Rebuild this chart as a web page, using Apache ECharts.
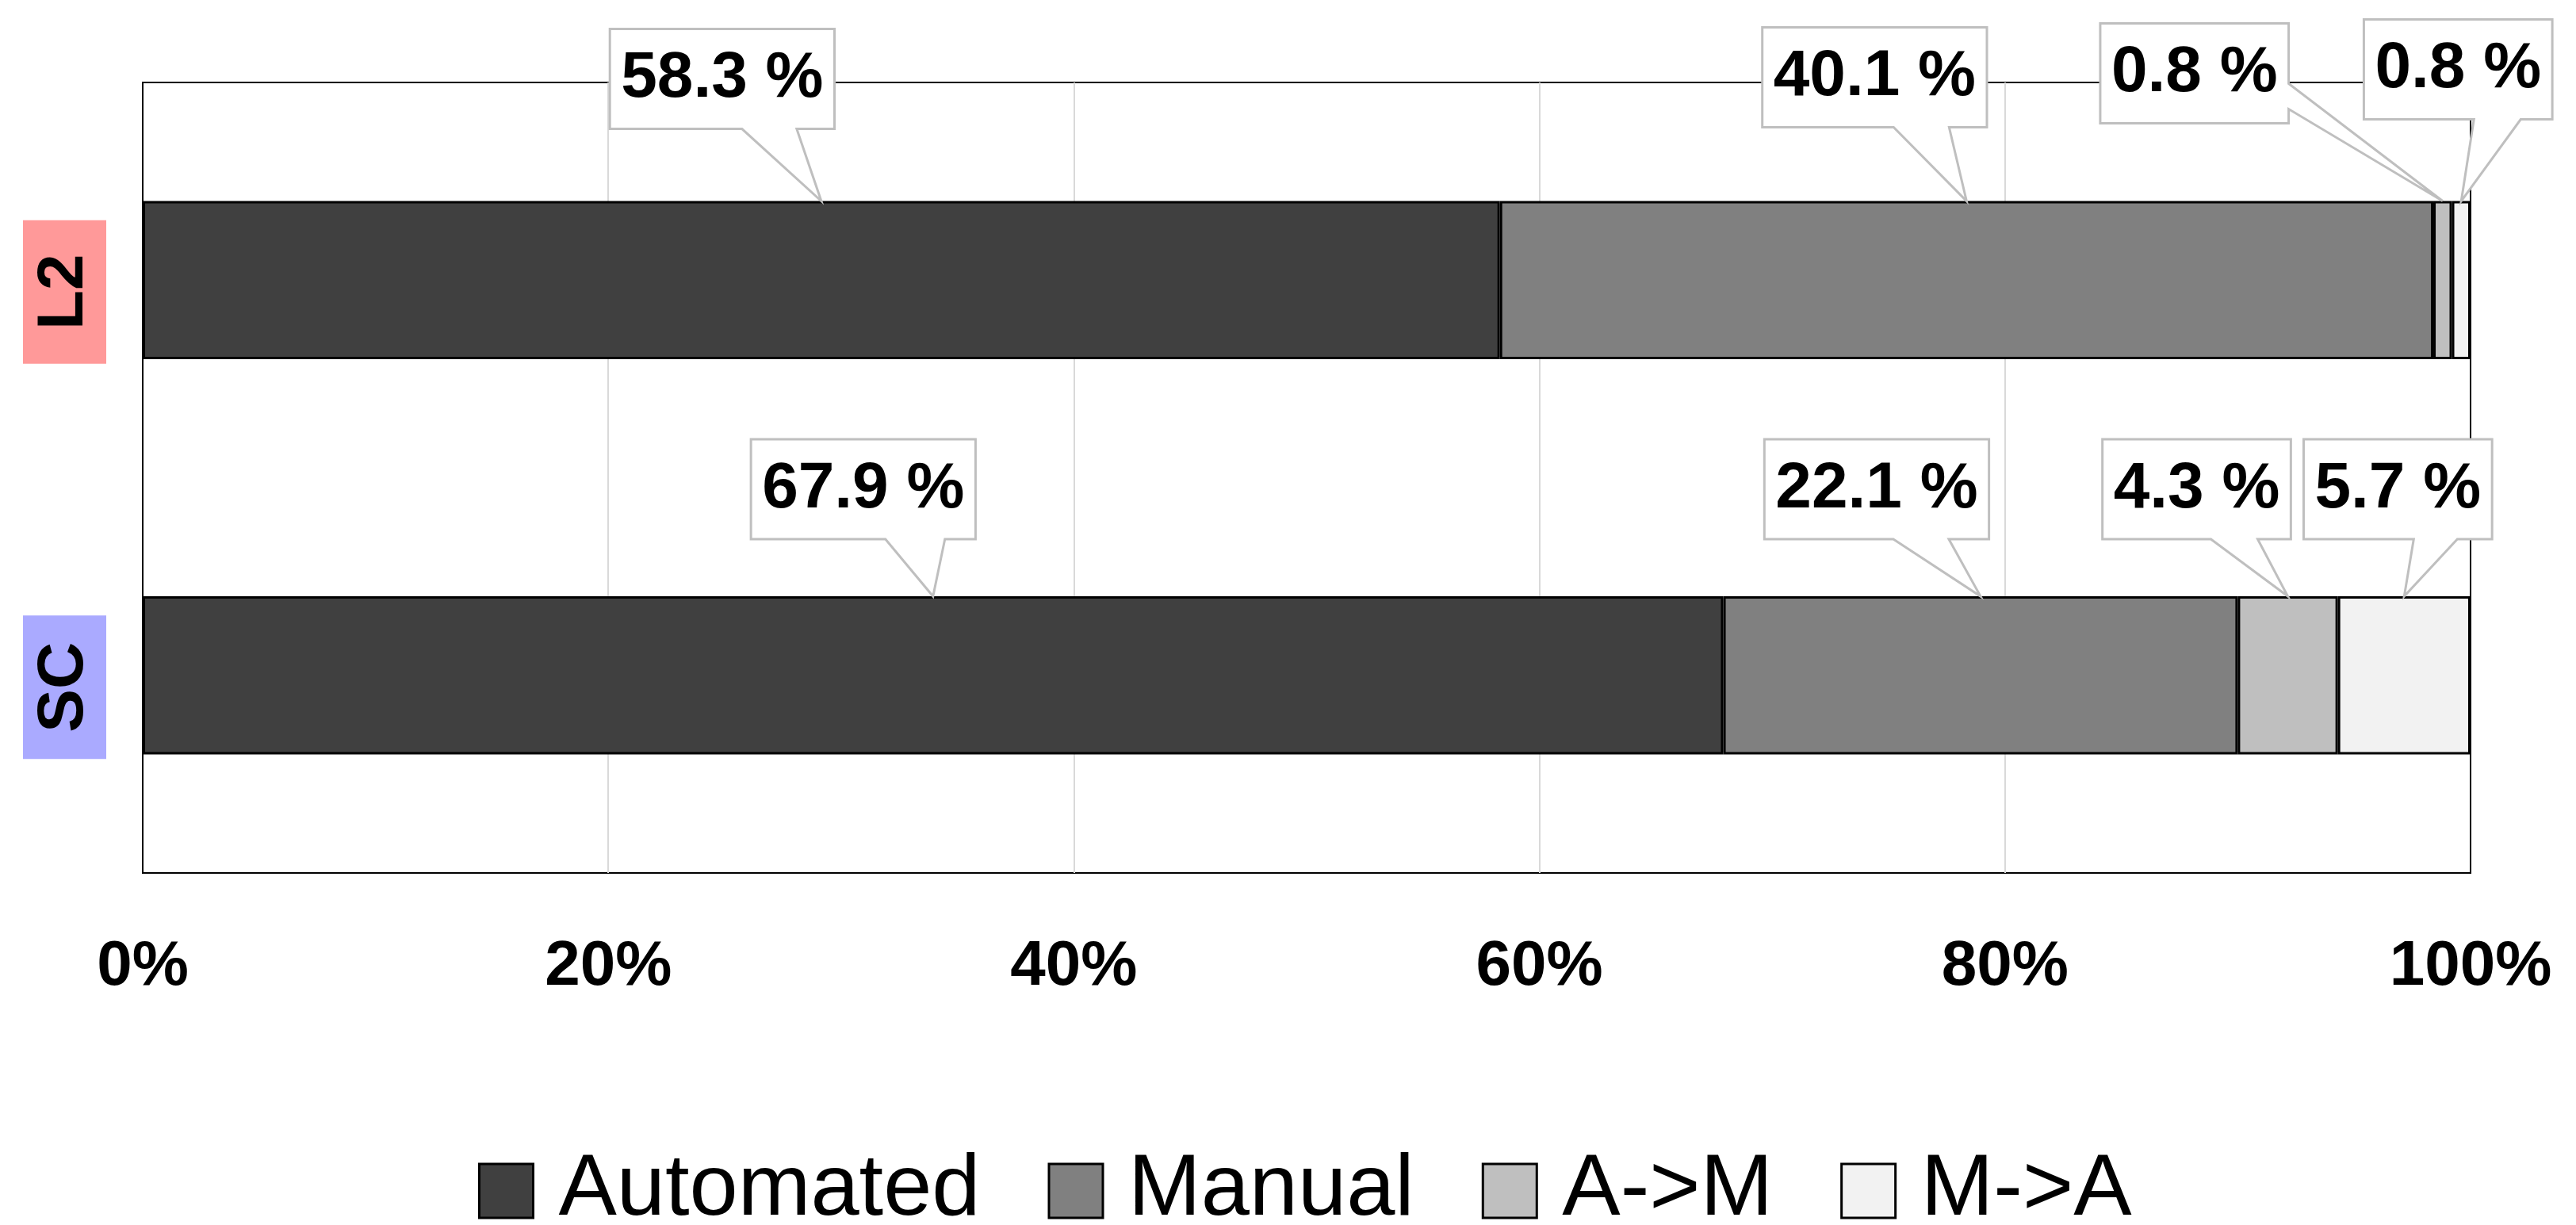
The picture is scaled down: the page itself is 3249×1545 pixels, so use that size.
<!DOCTYPE html>
<html><head><meta charset="utf-8">
<script src="https://cdn.jsdelivr.net/npm/echarts@6/dist/echarts.min.js"></script>
<style>html,body{margin:0;padding:0;background:#fff}#c{width:3249px;height:1545px}</style>
</head><body><div id="c"></div>
<script>
// ---- data ----
const categories = ['L2', 'SC'];
const seriesNames = ['Automated', 'Manual', 'A->M', 'M->A'];
const automated = [58.3, 67.9];
const manual = [40.1, 22.1];
const aToM = [0.8, 4.3];
const mToA = [0.8, 5.7];
const xTickLabels = ['0%', '20%', '40%', '60%', '80%', '100%'];

// ---- styling / layout ----
const seriesValues = [automated, manual, aToM, mToA];
const colors = ['#404040', '#808080', '#bfbfbf', '#f2f2f2'];
const catStyle = { L2: 'l2', SC: 'sc' };
const FONT = '"Liberation Sans", Arial, sans-serif';
const LABEL_FONT_SIZE = 82;
// callout box offsets relative to the anchor (segment middle, top edge of bar)
const calloutLayout = [
  [ { dx: -125, dy: -154, tail: 'bottom', t0: -100, t1: -31 },
    { dx: -116, dy: -156, tail: 'bottom', t0: -92, t1: -22 },
    { dx: -313, dy: -161, tail: 'right', t0: -148, t1: -116 },
    { dx: -4, dy: -166, tail: 'bottom', t0: 16, t1: 75 } ],
  [ { dx: -88, dy: -135, tail: 'bottom', t0: -60, t1: 15 },
    { dx: -131, dy: -135, tail: 'bottom', t0: -110, t1: -40 },
    { dx: -115, dy: -135, tail: 'bottom', t0: -97, t1: -38 },
    { dx: -8, dy: -135, tail: 'bottom', t0: 12, t1: 67 } ]
];
const BOX_H = 126, BOX_PAD = 14, BAR_FRAC = 0.4;

const measureCtx = document.createElement('canvas').getContext('2d');
function textWidth(t) {
  measureCtx.font = 'bold ' + LABEL_FONT_SIZE + 'px ' + FONT;
  return measureCtx.measureText(t).width;
}

const calloutData = [];
categories.forEach((cat, c) => {
  let cum = 0;
  seriesValues.forEach((arr, s) => {
    const v = arr[c];
    calloutData.push({ value: [cum + v / 2, c, s] });
    cum += v;
  });
});

function renderCallout(params, api) {
  const c = api.value(1), s = api.value(2);
  const val = seriesValues[s][c];
  const p = api.coord([api.value(0), c]);
  const band = api.size([0, 1])[1];
  const ax = p[0], ay = p[1] - band * BAR_FRAC / 2;
  const L = calloutLayout[c][s];
  const text = val.toFixed(1) + ' %';
  const w = textWidth(text) + 2 * BOX_PAD;
  const cx = ax + L.dx, cy = ay + L.dy;
  const x0 = cx - w / 2, x1 = cx + w / 2, y0 = cy - BOX_H / 2, y1 = cy + BOX_H / 2;
  let pts;
  if (L.tail === 'bottom') {
    pts = [[x0, y0], [x1, y0], [x1, y1], [ax + L.t1, y1], [ax, ay], [ax + L.t0, y1], [x0, y1]];
  } else {
    pts = [[x0, y0], [x1, y0], [x1, ay + L.t0], [ax, ay], [x1, ay + L.t1], [x1, y1], [x0, y1]];
  }
  return {
    type: 'group',
    children: [
      { type: 'polygon', shape: { points: pts },
        style: { fill: '#fff', stroke: '#bfbfbf', lineWidth: 3, lineJoin: 'miter' } },
      { type: 'text',
        style: { text: text, x: cx, y: cy, align: 'center', verticalAlign: 'middle',
                 fontSize: LABEL_FONT_SIZE, fontWeight: 'bold', fontFamily: FONT, fill: '#000' } }
    ]
  };
}

const chart = echarts.init(document.getElementById('c'), null, { renderer: 'canvas' });
const option = {
  animation: false,
  backgroundColor: '#fff',
  grid: { left: 180, right: 133, top: 104, bottom: 444, show: true,
          borderColor: '#000', borderWidth: 2, containLabel: false },
  legend: {
    data: seriesNames, left: 598, top: 1442, icon: 'rect',
    itemWidth: 68, itemHeight: 68, itemGap: 85,
    itemStyle: { borderColor: '#000', borderWidth: 3 },
    textStyle: { fontSize: 110, fontFamily: FONT, color: '#000', padding: [0, 0, 0, 27] }
  },
  xAxis: {
    type: 'value', min: 0, max: 100, interval: 20,
    axisLine: { show: false }, axisTick: { show: false },
    splitLine: { show: true, showMinLine: false, showMaxLine: false,
                 lineStyle: { color: '#d9d9d9', width: 2 } },
    axisLabel: {
      formatter: v => xTickLabels[Math.round(v / 20)],
      fontSize: 80, fontWeight: 'bold', fontFamily: FONT, color: '#000',
      lineHeight: 80, margin: 79
    }
  },
  yAxis: {
    type: 'category', data: categories, inverse: true,
    axisLine: { show: false }, axisTick: { show: false }, splitLine: { show: false },
    axisLabel: {
      rotate: 90, margin: 46,
      formatter: v => '{' + catStyle[v] + '|' + v + '}{pad|}',
      rich: {
        l2: { backgroundColor: '#ff9999', width: 181, height: 105, lineHeight: 105, align: 'center',
              fontSize: 82, fontWeight: 'bold', fontFamily: FONT, color: '#000' },
        sc: { backgroundColor: '#aaaaff', width: 181, height: 105, lineHeight: 105, align: 'center',
              fontSize: 82, fontWeight: 'bold', fontFamily: FONT, color: '#000' },
        pad: { width: 30, height: 105 }
      }
    }
  },
  series: seriesNames.map((name, s) => ({
    name: name, type: 'bar', stack: 'total', barWidth: (BAR_FRAC * 100) + '%',
    itemStyle: { color: colors[s], borderColor: '#000', borderWidth: 3 },
    data: seriesValues[s]
  })).concat([{
    name: 'callouts', type: 'custom', coordinateSystem: 'cartesian2d',
    renderItem: renderCallout, data: calloutData, encode: { x: 0, y: 1 },
    z: 10, clip: false, silent: true
  }])
};
chart.setOption(option);
</script>
</body></html>
